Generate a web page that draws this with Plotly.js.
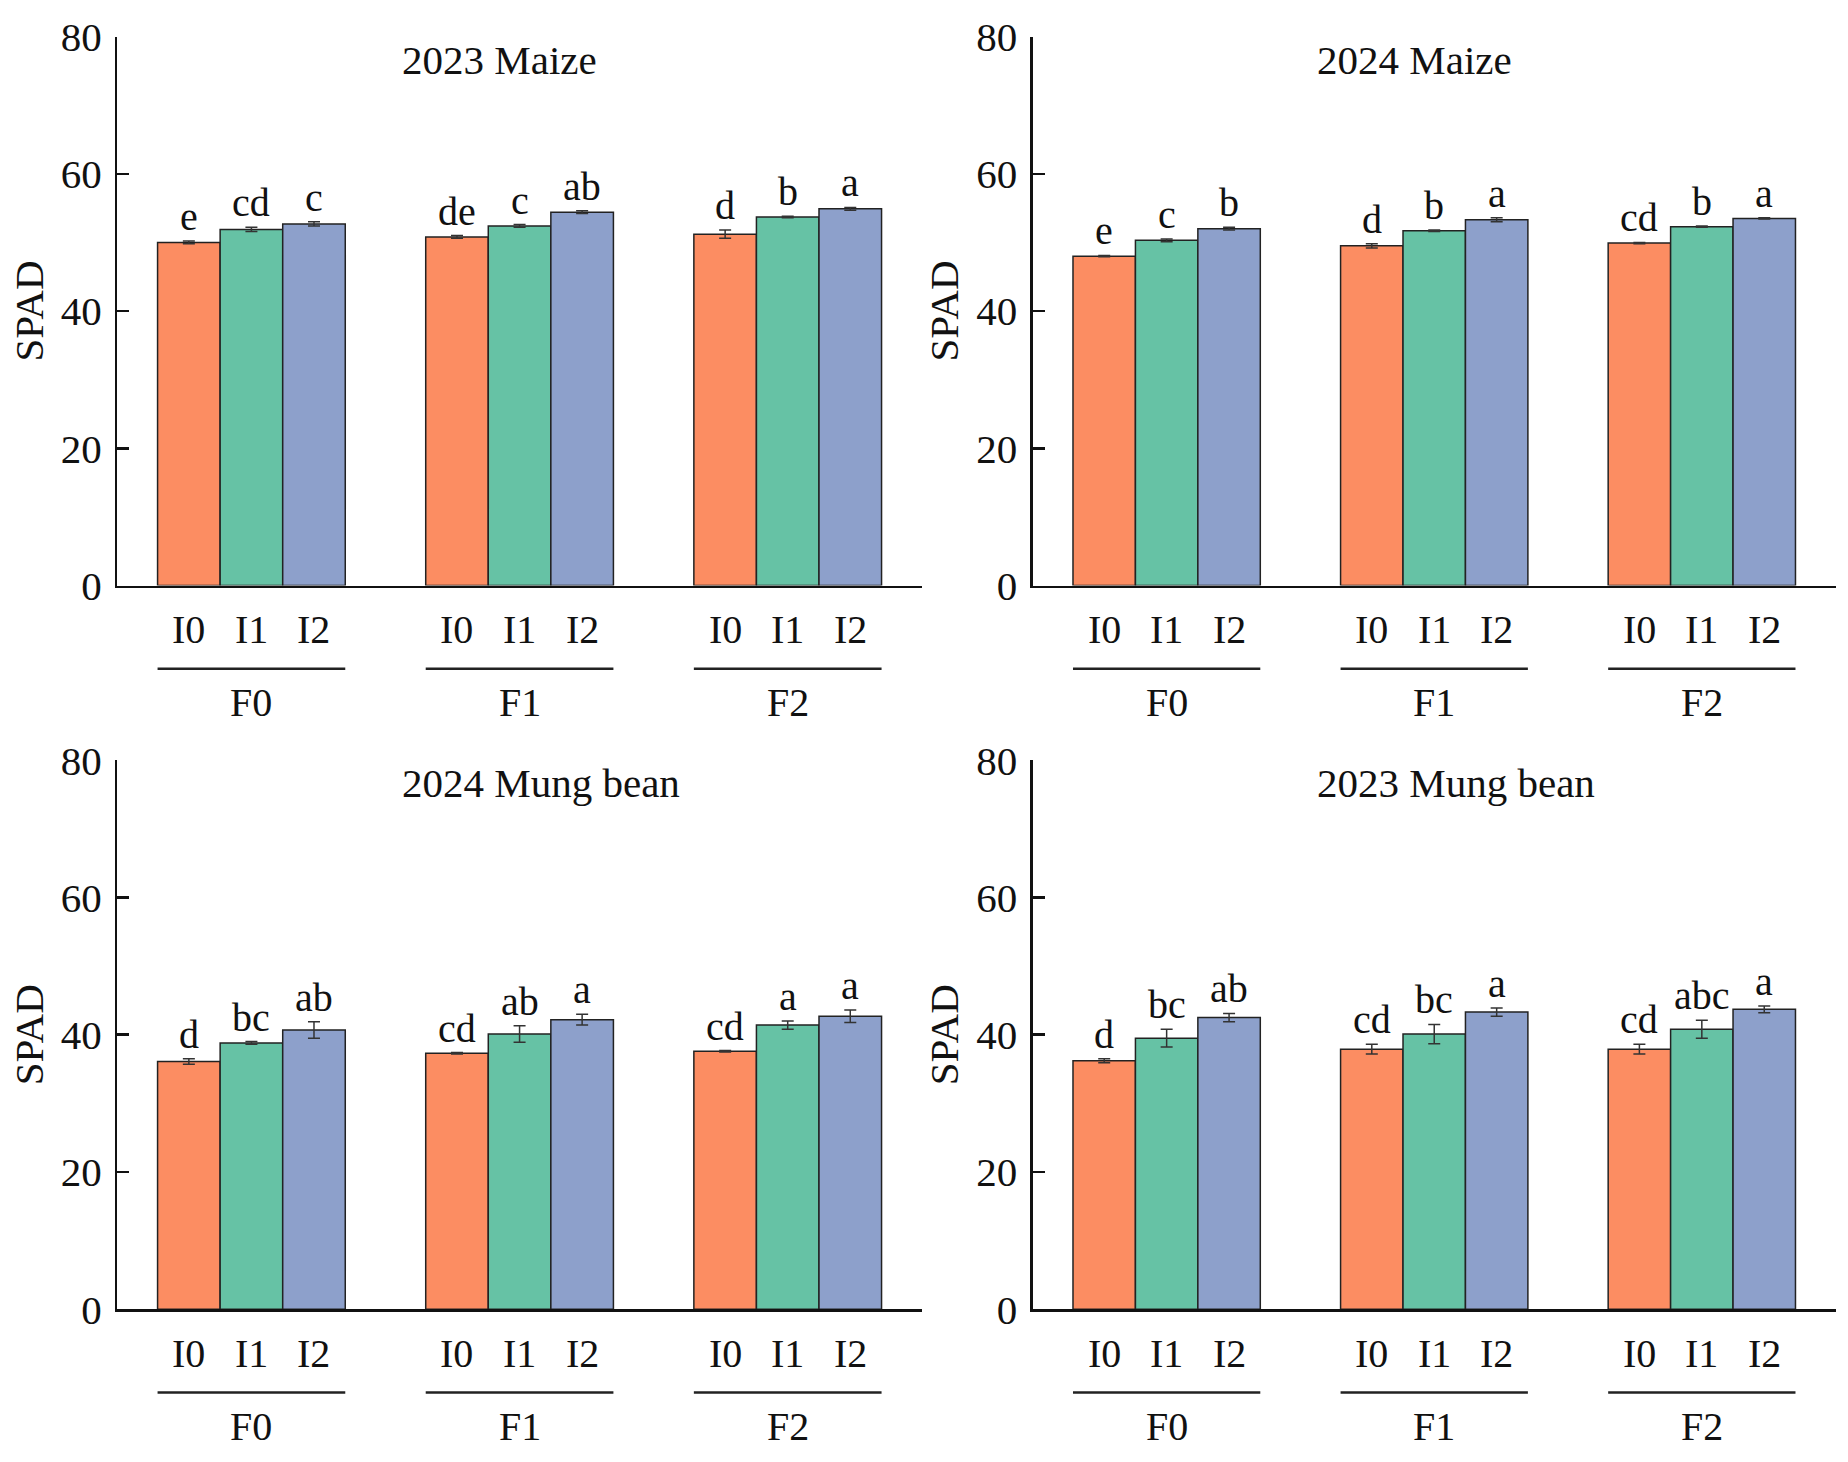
<!DOCTYPE html>
<html>
<head>
<meta charset="utf-8">
<script src="https://cdn.plot.ly/plotly-3.0.1.min.js"></script>
<style>
html,body{margin:0;padding:0;background:#fff;}
#chart{width:1848px;height:1462px;}
</style>
</head>
<body>
<div id="chart"></div>
<script>
// ---------- data ----------
const groups = ['F0', 'F1', 'F2'];
const levels = ['I0', 'I1', 'I2'];
const panelTitles = ['2023 Maize', '2024 Maize', '2024 Mung bean', '2023 Mung bean'];
const yTitle = 'SPAD';

// 2023 Maize
const maize2023_I0 = [50.0, 50.8, 51.2];
const maize2023_I1 = [51.9, 52.4, 53.7];
const maize2023_I2 = [52.7, 54.4, 54.9];
const maize2023_err_I0 = [0.2, 0.2, 0.6];
const maize2023_err_I1 = [0.3, 0.2, 0.1];
const maize2023_err_I2 = [0.3, 0.2, 0.2];
const maize2023_sig_I0 = ['e', 'de', 'd'];
const maize2023_sig_I1 = ['cd', 'c', 'b'];
const maize2023_sig_I2 = ['c', 'ab', 'a'];

// 2024 Maize
const maize2024_I0 = [48.0, 49.5, 49.9];
const maize2024_I1 = [50.3, 51.7, 52.3];
const maize2024_I2 = [52.0, 53.3, 53.5];
const maize2024_err_I0 = [0.1, 0.3, 0.1];
const maize2024_err_I1 = [0.2, 0.1, 0.1];
const maize2024_err_I2 = [0.2, 0.3, 0.1];
const maize2024_sig_I0 = ['e', 'd', 'cd'];
const maize2024_sig_I1 = ['c', 'b', 'b'];
const maize2024_sig_I2 = ['b', 'a', 'a'];

// 2024 Mung bean
const mung2024_I0 = [36.1, 37.3, 37.6];
const mung2024_I1 = [38.8, 40.1, 41.4];
const mung2024_I2 = [40.7, 42.2, 42.7];
const mung2024_err_I0 = [0.4, 0.1, 0.1];
const mung2024_err_I1 = [0.2, 1.2, 0.6];
const mung2024_err_I2 = [1.2, 0.8, 0.9];
const mung2024_sig_I0 = ['d', 'cd', 'cd'];
const mung2024_sig_I1 = ['bc', 'ab', 'a'];
const mung2024_sig_I2 = ['ab', 'a', 'a'];

// 2023 Mung bean
const mung2023_I0 = [36.2, 37.9, 37.9];
const mung2023_I1 = [39.5, 40.1, 40.8];
const mung2023_I2 = [42.5, 43.3, 43.7];
const mung2023_err_I0 = [0.3, 0.7, 0.7];
const mung2023_err_I1 = [1.3, 1.4, 1.3];
const mung2023_err_I2 = [0.6, 0.6, 0.5];
const mung2023_sig_I0 = ['d', 'cd', 'cd'];
const mung2023_sig_I1 = ['bc', 'bc', 'abc'];
const mung2023_sig_I2 = ['ab', 'a', 'a'];

const yTicks = [0, 20, 40, 60, 80];

// ---------- styling ----------
const colors = ['#FC8D62', '#66C2A5', '#8DA0CB'];
const FONT = '"Liberation Serif", "Times New Roman", serif';
const panels = [
  {vals: [maize2023_I0, maize2023_I1, maize2023_I2], errs: [maize2023_err_I0, maize2023_err_I1, maize2023_err_I2], sigs: [maize2023_sig_I0, maize2023_sig_I1, maize2023_sig_I2], xd: [0.0635, 0.4988], yd: [0.5995, 0.9750], lineY: 0.5426},
  {vals: [maize2024_I0, maize2024_I1, maize2024_I2], errs: [maize2024_err_I0, maize2024_err_I1, maize2024_err_I2], sigs: [maize2024_sig_I0, maize2024_sig_I1, maize2024_sig_I2], xd: [0.5589, 0.9933], yd: [0.5995, 0.9750], lineY: 0.5426},
  {vals: [mung2024_I0, mung2024_I1, mung2024_I2], errs: [mung2024_err_I0, mung2024_err_I1, mung2024_err_I2], sigs: [mung2024_sig_I0, mung2024_sig_I1, mung2024_sig_I2], xd: [0.0635, 0.4988], yd: [0.1045, 0.4800], lineY: 0.0475},
  {vals: [mung2023_I0, mung2023_I1, mung2023_I2], errs: [mung2023_err_I0, mung2023_err_I1, mung2023_err_I2], sigs: [mung2023_sig_I0, mung2023_sig_I1, mung2023_sig_I2], xd: [0.5589, 0.9933], yd: [0.1045, 0.4800], lineY: 0.0475}
];

const groupWidth = 0.7;
const barW = groupWidth / levels.length;

const traces = [];
const annotations = [];
const shapes = [];
const layout = {
  width: 1848, height: 1462,
  margin: {l: 0, r: 0, t: 0, b: 0},
  paper_bgcolor: '#fff', plot_bgcolor: '#fff',
  font: {family: FONT, size: 40, color: '#111'},
  showlegend: false,
  barmode: 'group', bargap: 1 - groupWidth, bargroupgap: 0
};

panels.forEach((p, pi) => {
  const sfx = pi === 0 ? '' : String(pi + 1);
  const xa = 'x' + sfx, ya = 'y' + sfx;
  levels.forEach((lv, k) => {
    traces.push({
      type: 'bar', name: lv, x: groups, y: p.vals[k],
      xaxis: xa, yaxis: ya,
      marker: {color: colors[k], line: {color: '#222', width: 1.5}},
      error_y: {type: 'data', array: p.errs[k], visible: true, color: '#333', thickness: 1.5, width: 6},
      hoverinfo: 'skip'
    });
    groups.forEach((g, gi) => {
      const xpos = gi + (k - (levels.length - 1) / 2) * barW;
      annotations.push({
        xref: xa, yref: ya, x: xpos, y: p.vals[k][gi] + p.errs[k][gi],
        text: p.sigs[k][gi], showarrow: false, yanchor: 'bottom', yshift: 0,
        font: {family: FONT, size: 40, color: '#111'}
      });
      annotations.push({
        xref: xa, yref: ya, x: xpos, y: 0,
        text: lv, showarrow: false, yanchor: 'middle', yshift: -44,
        font: {family: FONT, size: 40, color: '#111'}
      });
    });
  });
  groups.forEach((g, gi) => {
    shapes.push({
      type: 'line', xref: xa, yref: 'paper',
      x0: gi - groupWidth / 2, x1: gi + groupWidth / 2, y0: p.lineY, y1: p.lineY,
      line: {color: '#222', width: 2.5}
    });
    annotations.push({
      xref: xa, yref: ya, x: gi, y: 0,
      text: g, showarrow: false, yanchor: 'middle', yshift: -117,
      font: {family: FONT, size: 40, color: '#111'}
    });
  });
  annotations.push({
    xref: xa + ' domain', yref: ya + ' domain', x: 0.351, y: 1,
    xanchor: 'left', yanchor: 'middle', yshift: -23,
    text: panelTitles[pi], showarrow: false,
    font: {family: FONT, size: 41, color: '#111'}
  });
  layout['xaxis' + sfx] = {
    domain: p.xd, anchor: ya, type: 'category', range: [-0.5, 2.5],
    showline: true, linecolor: '#111', linewidth: 2.5,
    ticks: '', showticklabels: false, showgrid: false, zeroline: false, fixedrange: true
  };
  layout['yaxis' + sfx] = {
    domain: p.yd, anchor: xa, range: [0, 80],
    tickvals: yTicks, ticktext: yTicks.map(String),
    showline: true, linecolor: '#111', linewidth: 2.5,
    ticks: 'inside', ticklen: 12, tickwidth: 2.5, tickcolor: '#111',
    ticklabelstandoff: 5,
    tickfont: {family: FONT, size: 41, color: '#111'},
    showgrid: false, zeroline: false, fixedrange: true,
    title: {text: yTitle, font: {family: FONT, size: 41, color: '#111'}, standoff: 5}
  };
});

layout.annotations = annotations;
layout.shapes = shapes;

Plotly.newPlot('chart', traces, layout, {displayModeBar: false, staticPlot: true});
</script>
</body>
</html>
